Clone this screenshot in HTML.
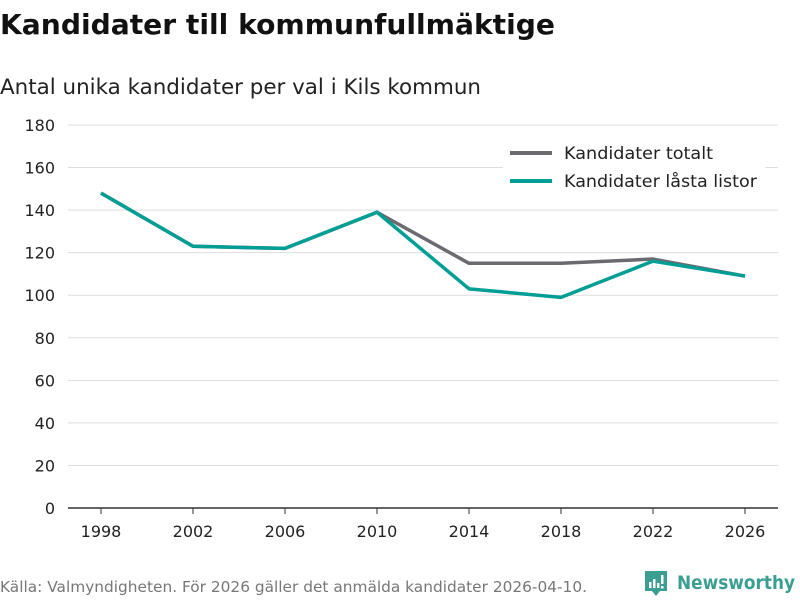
<!DOCTYPE html>
<html><head><meta charset="utf-8"><style>
body{margin:0;width:800px;height:600px;background:#fff;font-family:"DejaVu Sans","Liberation Sans",sans-serif;overflow:hidden}
</style></head><body>
<svg width="800" height="600" xmlns="http://www.w3.org/2000/svg">
<text x="0" y="34" font-size="28" font-weight="bold" fill="#111" textLength="555" lengthAdjust="spacingAndGlyphs">Kandidater till kommunfullmäktige</text>
<text x="0" y="94" font-size="21" fill="#222" textLength="481" lengthAdjust="spacingAndGlyphs">Antal unika kandidater per val i Kils kommun</text>
<g id="grid"></g>
<g id="ylab"></g>
<g id="xlab"></g>
<g id="lines"></g>
<g>
<rect x="503" y="139" width="262" height="60" fill="#fff"/>
<line x1="510" y1="153" x2="552" y2="153" stroke="#6b6a70" stroke-width="4"/>
<text x="564" y="159" font-size="16.5" fill="#222" textLength="149" lengthAdjust="spacingAndGlyphs">Kandidater totalt</text>
<line x1="510" y1="181" x2="552" y2="181" stroke="#009e94" stroke-width="4"/>
<text x="564" y="187" font-size="16.5" fill="#222" textLength="193" lengthAdjust="spacingAndGlyphs">Kandidater låsta listor</text>
</g>
<text x="0" y="592" font-size="15" fill="#777" textLength="587" lengthAdjust="spacingAndGlyphs">Källa: Valmyndigheten. För 2026 gäller det anmälda kandidater 2026-04-10.</text>
<g>
<path d="M645 571 h22 v20 h-7 l-4 5 l-4 -5 h-7 z" fill="#3a9e93"/>
<rect x="649" y="582" width="2.5" height="6" fill="#fff"/><rect x="653" y="579" width="2.5" height="9" fill="#fff"/><rect x="657" y="583" width="2.5" height="5" fill="#fff"/><rect x="661" y="575" width="2.5" height="9" fill="#fff"/><rect x="661" y="586" width="2.5" height="2.5" fill="#fff"/>
<text x="677" y="589" font-size="19" font-weight="bold" fill="#3a9e93" textLength="118" lengthAdjust="spacingAndGlyphs">Newsworthy</text>
</g>
</svg>
<script>
const years=["1998","2002","2006","2010","2014","2018","2022","2026"];
const totalt=[148,123,122,139,115,115,117,109];
const lasta=[148,123,122,139,103,99,116,109];
const yTicks=[0,20,40,60,80,100,120,140,160,180];
const NS="http://www.w3.org/2000/svg";
const x=i=>101+i*(644/(years.length-1));
const y=v=>508-v*(383/180);
const mk=(t,a,p)=>{const e=document.createElementNS(NS,t);for(const k in a)e.setAttribute(k,a[k]);p.appendChild(e);return e;};
const g=document.getElementById('grid'),yl=document.getElementById('ylab'),xl=document.getElementById('xlab'),L=document.getElementById('lines');
yTicks.forEach(v=>{
 const l=mk('line',{x1:68,x2:778,y1:y(v),y2:y(v),stroke:v===0?'#333':'#ddd','stroke-width':v===0?1.5:1},g);
 
 
 const t=mk('text',{x:55,y:y(v)+6,'font-size':16,fill:'#222','text-anchor':'end'},yl);t.textContent=v;
 
 
});
years.forEach((yr,i)=>{
 const tk=mk('line',{x1:x(i),x2:x(i),y1:508,y2:514,stroke:'#333'},xl);
 
 
 const t=mk('text',{x:x(i),y:537,'font-size':16,fill:'#222','text-anchor':'middle'},xl);t.textContent=yr;
 
 
});
[[totalt,'#6b6a70','line-total'],[lasta,'#009e94','line-locked']].forEach(([d,c,n])=>{
 const p=mk('polyline',{points:d.map((v,i)=>x(i)+','+y(v)).join(' '),fill:'none',stroke:c,'stroke-width':3.5,'stroke-linejoin':'round'},L);
 
 
});
</script>
</body></html>
